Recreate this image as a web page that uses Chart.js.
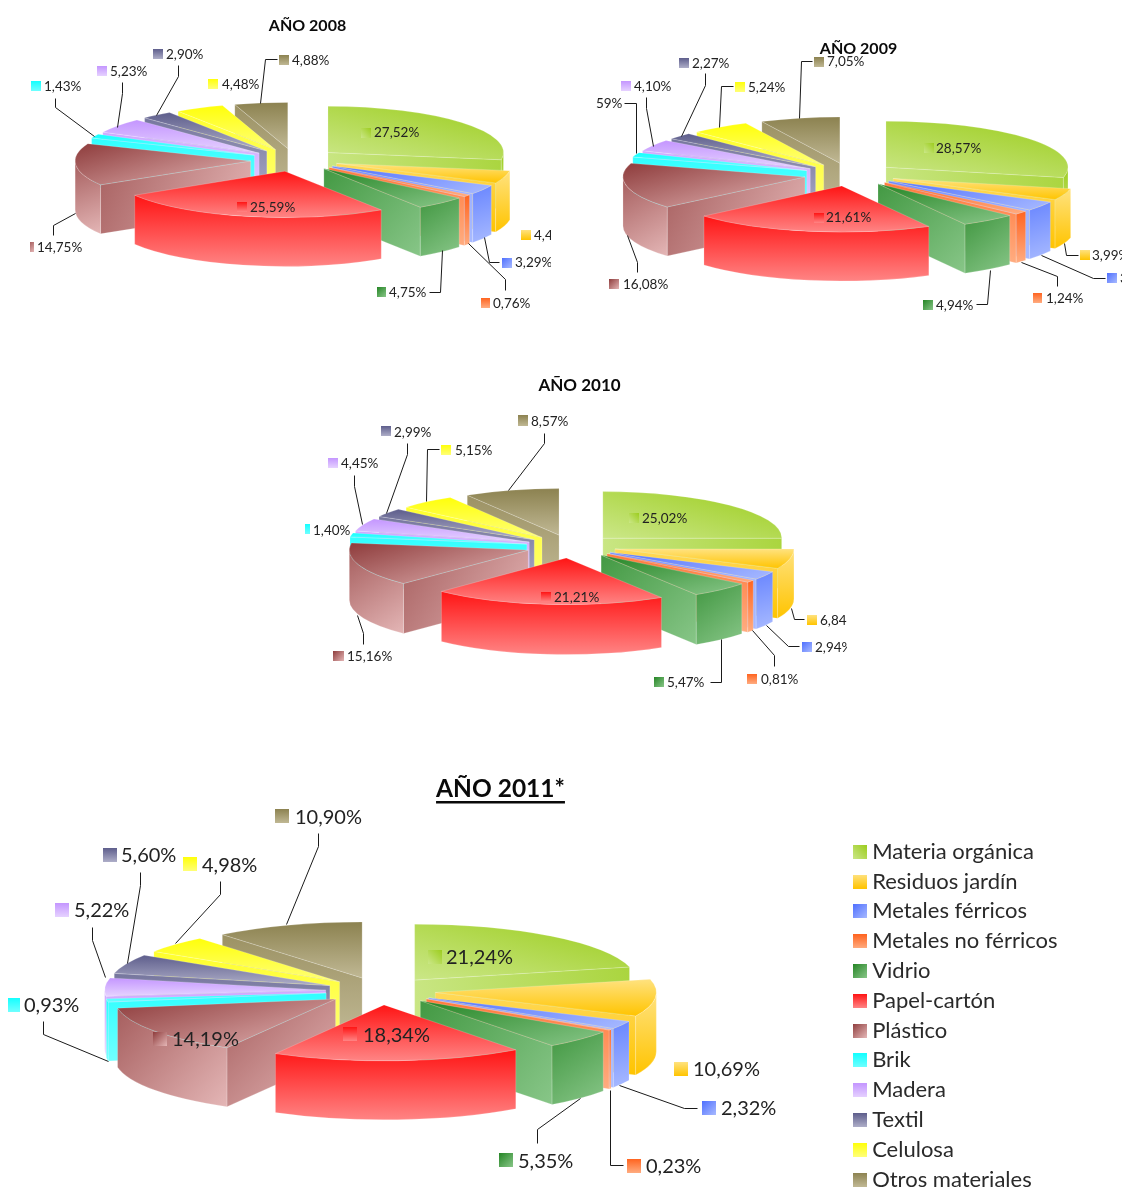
<!DOCTYPE html>
<html lang="es">
<head>
<meta charset="utf-8">
<title>Composición de residuos por año</title>
<script src="https://cdn.jsdelivr.net/npm/chart.js@4"></script>
<style>
  html, body { margin: 0; padding: 0; background: #fff; }
  #page { position: relative; width: 1122px; height: 1187px; overflow: hidden; background: #fff; }
  .pane { position: absolute; overflow: hidden; }
  .pane canvas { display: block; }
</style>
</head>
<body>
<div id="page"></div>
<script>
// ---- Data ----------------------------------------------------------------
const categories = ['Materia orgánica', 'Residuos jardín', 'Metales férricos', 'Metales no férricos',
  'Vidrio', 'Papel-cartón', 'Plástico', 'Brik', 'Madera', 'Textil', 'Celulosa', 'Otros materiales'];
const values2008 = [27.52, 4.42, 3.29, 0.76, 4.75, 25.59, 14.75, 1.43, 5.23, 2.90, 4.48, 4.88];
const values2009 = [28.57, 3.99, 3.32, 1.24, 4.94, 21.61, 16.08, 1.59, 4.10, 2.27, 5.24, 7.05];
const values2010 = [25.02, 6.84, 2.94, 0.81, 5.47, 21.21, 15.16, 1.40, 4.45, 2.99, 5.15, 8.57];
const values2011 = [21.24, 10.69, 2.32, 0.23, 5.35, 18.34, 14.19, 0.93, 5.22, 5.60, 4.98, 10.90];

// ---- Styles --------------------------------------------------------------
// Gradient ends per category; the direction is 'tr' (top right to bottom left),
// 'tl' (top left to bottom right) or 'v' (top to bottom).
const colourStart = ['#9ccd1e', '#ffe27f', '#4f70ff', '#ff6420', '#258525', '#ff1414', '#8e3c3c', '#14ffff', '#c496ff', '#5e5e8c', '#ffff0a', '#8c8250'];
const colourEnd   = ['#cbe788', '#ffc400', '#a8baff', '#ffac80', '#88c688', '#ff8484', '#e4b6b6', '#70ffff', '#e6d2ff', '#aeaec8', '#ffff78', '#c0b894'];
const gradientDir = ['tr', 'v', 'tl', 'v', 'tl', 'v', 'tl', 'v', 'v', 'v', 'v', 'v'];
const FONT = 'Lato';
const SMALL_TEXT = 13.5;
const LARGE_TEXT = 20;

// Annotation layout in page pixels, in category order:
// swatch [x, y, w, h], text [x, centre y], optional leader polyline.
const notes2008 = [
  { s: [361, 128, 10, 10], t: [374, 133] },
  { s: [521, 230, 10, 10], t: [534, 236] },
  { s: [502, 258, 10, 10], t: [515, 263], l: [[484, 237], [489, 262], [499, 262]] },
  { s: [481, 298, 9, 10], t: [493, 304], l: [[468, 243], [505, 279], [505, 290]] },
  { s: [377, 287, 9, 10], t: [389, 293], l: [[442, 250], [440, 292], [429, 292]] },
  { s: [237, 202, 10, 10], t: [250, 208] },
  { s: [24, 242, 10, 10], t: [37, 248], l: [[75, 213], [53, 225], [53, 235]] },
  { s: [31, 81, 10, 10], t: [44, 87], l: [[55, 98], [55, 107], [94, 136]] },
  { s: [97, 66, 10, 10], t: [110, 72], l: [[122, 82], [122, 93], [117, 127]] },
  { s: [153, 49, 10, 10], t: [166, 55], l: [[178, 65], [178, 76], [156, 115]] },
  { s: [208, 79, 10, 10], t: [222, 85] },
  { s: [279, 55, 10, 10], t: [292, 61], l: [[277, 59], [265, 59], [260, 103]] }
];
const notes2009 = [
  { s: [924, 143, 10, 10], t: [936, 149] },
  { s: [1080, 250, 10, 10], t: [1092, 256], l: [[1064, 243], [1066, 255], [1078, 255]] },
  { s: [1107, 273, 10, 10], t: [1120, 279], l: [[1041, 255], [1093, 278], [1105, 278]] },
  { s: [1033, 293, 9, 10], t: [1046, 299], l: [[1021, 262], [1057, 276], [1057, 286]] },
  { s: [923, 300, 10, 10], t: [936, 306], l: [[990, 270], [987, 304], [976, 304]] },
  { s: [814, 213, 10, 10], t: [826, 218] },
  { s: [609, 279, 10, 10], t: [623, 285], l: [[627, 235], [637, 262], [637, 272]] },
  { s: [565, 98, 10, 10], t: [585, 104], l: [[624, 103], [636, 103], [636, 153]] },
  { s: [621, 81, 10, 10], t: [634, 87], l: [[646, 97], [646, 108], [653, 146]] },
  { s: [679, 58, 10, 10], t: [692, 64], l: [[705, 73], [705, 85], [681, 136]] },
  { s: [735, 82, 10, 10], t: [748, 88], l: [[733, 86], [721, 86], [719, 127]] },
  { s: [814, 57, 10, 10], t: [827, 62], l: [[812, 61], [801, 61], [799, 118]] }
];
const notes2010 = [
  { s: [629, 513, 10, 10], t: [642, 519] },
  { s: [807, 615, 10, 10], t: [820, 621], l: [[791, 608], [794, 619], [804, 619]] },
  { s: [802, 642, 10, 10], t: [815, 648], l: [[766, 625], [788, 646], [799, 646]] },
  { s: [747, 674, 10, 10], t: [761, 680], l: [[752, 630], [774, 655], [774, 666]] },
  { s: [654, 677, 10, 10], t: [667, 683], l: [[721, 639], [721, 682], [710, 682]] },
  { s: [541, 592, 10, 10], t: [554, 598] },
  { s: [333, 651, 11, 10], t: [347, 657], l: [[357, 615], [363, 633], [363, 644]] },
  { s: [300, 524, 10, 10], t: [313, 531] },
  { s: [328, 458, 10, 10], t: [341, 464], l: [[354, 475], [354, 486], [362, 524]] },
  { s: [381, 426, 10, 10], t: [394, 433], l: [[407, 443], [407, 454], [386, 513]] },
  { s: [441, 445, 10, 10], t: [455, 451], l: [[439, 449], [427, 449], [426, 501]] },
  { s: [518, 415, 10, 11], t: [531, 422], l: [[544, 433], [544, 443], [508, 490]] }
];
const notes2011 = [
  { s: [428, 950, 14, 14], t: [446, 958] },
  { s: [674, 1062, 14, 14], t: [693, 1070] },
  { s: [702, 1101, 14, 14], t: [721, 1109], l: [[619, 1085], [684, 1108], [697, 1108]] },
  { s: [627, 1159, 14, 14], t: [646, 1167], l: [[610, 1090], [610, 1165], [623, 1165]] },
  { s: [499, 1153, 14, 14], t: [518, 1162], l: [[580, 1098], [537, 1129], [537, 1143]] },
  { s: [343, 1027, 14, 14], t: [363, 1036] },
  { s: [153, 1032, 14, 14], t: [172, 1040] },
  { s: [8, 998, 12, 14], t: [24, 1006], l: [[43, 1021], [43, 1034], [108, 1061]] },
  { s: [55, 903, 14, 14], t: [74, 911], l: [[92, 927], [92, 940], [105, 977]] },
  { s: [103, 848, 14, 14], t: [121, 856], l: [[140, 872], [140, 885], [127, 963]] },
  { s: [183, 857, 14, 14], t: [202, 866], l: [[220, 881], [220, 894], [175, 943]] },
  { s: [275, 809, 14, 14], t: [295, 818], l: [[318, 833], [318, 846], [286, 924]] }
];

// ---- Helpers -------------------------------------------------------------
const formatPct = v => v.toFixed(2).replace('.', ',') + '%';

function mix(a, b, t) {
  const p = c => [1, 3, 5].map(i => parseInt(c.substr(i, 2), 16));
  const A = p(a), B = p(b);
  return 'rgb(' + A.map((v, i) => Math.round(v + (B[i] - v) * t)).join(',') + ')';
}

// Linear gradient across a box, oriented for the given category.
function boxGradient(ctx, i, x0, y0, x1, y1, bias) {
  const d = gradientDir[i];
  const g = d === 'v' ? ctx.createLinearGradient(0, y0, 0, y1)
    : d === 'tl' ? ctx.createLinearGradient(x0, y0, x1, y1)
    : ctx.createLinearGradient(x1, y0, x0, y1);
  g.addColorStop(0, bias ? mix(colourStart[i], colourEnd[i], bias) : colourStart[i]);
  g.addColorStop(1, colourEnd[i]);
  return g;
}

function boundsOf(points) {
  const xs = points.map(p => p[0]), ys = points.map(p => p[1]);
  return [Math.min(...xs), Math.min(...ys), Math.max(...xs), Math.max(...ys)];
}

// Draws one exploded slice as an extruded block: visible side walls first,
// then the flattened top face through the arc element's own draw().
function drawBlock(ctx, arc, i, g) {
  const s = arc.startAngle, e = arc.endAngle, mid = (s + e) / 2;
  const r = arc.outerRadius, k = g.tilt, h = g.depth;
  const ax = g.cx + Math.cos(mid) * g.explode;
  const ay = g.cy + Math.sin(mid) * g.explode * k;
  const rim = a => [ax + Math.cos(a) * r, ay + Math.sin(a) * r * k];

  const radialWall = a => {
    const p = rim(a);
    ctx.beginPath();
    ctx.moveTo(ax, ay);
    ctx.lineTo(p[0], p[1]);
    ctx.lineTo(p[0], p[1] + h);
    ctx.lineTo(ax, ay + h);
    ctx.closePath();
    const [x0, y0, x1, y1] = boundsOf([[ax, ay], p, [p[0], p[1] + h], [ax, ay + h]]);
    ctx.fillStyle = boxGradient(ctx, i, x0, y0, x1, y1, 0.3);
    ctx.fill();
    ctx.strokeStyle = 'rgba(255,255,255,0.28)';
    ctx.lineWidth = 0.7;
    ctx.stroke();
  };
  if (Math.cos(s) < 0) radialWall(s);
  if (Math.cos(e) > 0) radialWall(e);

  const a0 = Math.max(s, 0), a1 = Math.min(e, Math.PI);
  if (a1 > a0) {
    ctx.beginPath();
    ctx.ellipse(ax, ay, r, r * k, 0, a0, a1, false);
    ctx.ellipse(ax, ay + h, r, r * k, 0, a1, a0, true);
    ctx.closePath();
    const pts = [rim(a0), rim(a1)];
    if (a0 < Math.PI / 2 && a1 > Math.PI / 2) pts.push(rim(Math.PI / 2));
    const [x0, y0, x1, y1] = boundsOf(pts);
    ctx.fillStyle = boxGradient(ctx, i, x0, y0, x1, y1 + h, gradientDir[i] === 'tl' ? 0.28 : 0);
    ctx.fill();
    ctx.strokeStyle = 'rgba(255,255,255,0.28)';
    ctx.lineWidth = 0.7;
    ctx.stroke();
  }

  // Top face, in the unflattened coordinates the arc element works in.
  const local = [[arc.x, arc.y]];
  for (const a of [s, e, -Math.PI / 2, 0, Math.PI / 2, Math.PI]) {
    if (a >= s && a <= e) local.push([arc.x + Math.cos(a) * r, arc.y + Math.sin(a) * r]);
  }
  const [x0, y0, x1, y1] = boundsOf(local);
  ctx.save();
  ctx.translate(ax, ay);
  ctx.scale(1, k);
  ctx.translate(-arc.x, -arc.y);
  const resolved = arc.options;
  arc.options = Object.assign({}, resolved, { backgroundColor: boxGradient(ctx, i, x0, y0, x1, y1) });
  arc.draw(ctx);
  arc.options = resolved;
  ctx.restore();
}

function makeBlockPlugin(spec) {
  return {
    id: 'blocks',
    // Replaces the flat pie pass with back-to-front painted blocks.
    beforeDatasetsDraw(chart) {
      const ctx = chart.ctx;
      const arcs = chart.getDatasetMeta(0).data;
      const order = arcs.map((arc, i) => i).sort((a, b) => {
        const m = i => (arcs[i].startAngle + arcs[i].endAngle) / 2;
        return Math.sin(m(a)) - Math.sin(m(b));
      });
      ctx.save();
      ctx.translate(-spec.left, -spec.top);
      order.forEach(i => drawBlock(ctx, arcs[i], i, spec));
      ctx.restore();
      return false;
    },
    afterDraw(chart) {
      const ctx = chart.ctx;
      ctx.save();
      ctx.translate(-spec.left, -spec.top);

      // Leader lines
      ctx.strokeStyle = '#1a1a1a';
      ctx.lineWidth = 1;
      spec.notes.forEach(n => {
        if (!n.l) return;
        ctx.beginPath();
        n.l.forEach((p, j) => j ? ctx.lineTo(p[0] + 0.5, p[1] + 0.5) : ctx.moveTo(p[0] + 0.5, p[1] + 0.5));
        ctx.stroke();
      });

      // Value tags
      ctx.font = spec.textSize + 'px ' + FONT;
      ctx.textBaseline = 'middle';
      ctx.textAlign = 'left';
      spec.notes.forEach((n, i) => {
        const [x, y, w, hh] = n.s;
        ctx.fillStyle = boxGradient(ctx, i, x, y, x + w, y + hh);
        ctx.fillRect(x, y, w, hh);
        ctx.fillStyle = '#222';
        ctx.fillText(formatPct(spec.values[i]), n.t[0], n.t[1]);
      });

      // Heading
      ctx.fillStyle = '#0a0a0a';
      ctx.font = 'bold ' + spec.titleSize + 'px ' + FONT;
      ctx.textAlign = 'center';
      ctx.fillText(spec.title, spec.titleX, spec.titleY);
      if (spec.underline) {
        const w = ctx.measureText(spec.title).width;
        ctx.fillRect(spec.titleX - w / 2, spec.titleY + 12, w, 2.5);
      }
      ctx.restore();
    }
  };
}

function legendSwatch(i) {
  const c = document.createElement('canvas');
  c.width = 14; c.height = 14;
  const x = c.getContext('2d');
  x.fillStyle = boxGradient(x, i, 0, 0, 14, 14);
  x.fillRect(0, 0, 14, 14);
  return c;
}

function makeChart(spec) {
  const pane = document.createElement('div');
  pane.className = 'pane';
  pane.style.cssText = `left:${spec.left}px;top:${spec.top}px;width:${spec.width}px;height:${spec.height}px`;
  const canvas = document.createElement('canvas');
  canvas.width = spec.width; canvas.height = spec.canvasHeight || spec.height;
  pane.appendChild(canvas);
  document.getElementById('page').appendChild(pane);

  return new Chart(canvas, {
    type: 'pie',
    plugins: [makeBlockPlugin(spec)],
    data: {
      labels: categories,
      datasets: [{
        data: spec.values,
        backgroundColor: colourStart,
        borderColor: 'rgba(255,255,255,0.3)',
        borderWidth: 1,
        radius: spec.radius
      }]
    },
    options: {
      responsive: false,
      animation: false,
      layout: { padding: spec.showLegend ? { top: 63, right: 54.5 } : 0 },
      plugins: {
        tooltip: { enabled: false },
        legend: spec.showLegend ? {
          display: true,
          position: 'right',
          align: 'start',
          labels: {
            usePointStyle: true,
            pointStyleWidth: 3,
            boxHeight: 14,
            padding: 7.8,
            color: '#2a2a2a',
            font: { family: FONT, size: 22, lineHeight: 1.09 },
            generateLabels: () => categories.map((text, i) => ({
              text, pointStyle: legendSwatch(i), fontColor: '#2a2a2a', lineWidth: 0, hidden: false, index: i
            }))
          }
        } : { display: false }
      }
    }
  });
}

// ---- Charts --------------------------------------------------------------
makeChart({ title: 'AÑO 2008', values: values2008, notes: notes2008,
  left: 30, top: 0, width: 521, height: 340,
  cx: 294.5, cy: 160, radius: 175.5, tilt: 0.263, explode: 44, depth: 49,
  textSize: SMALL_TEXT, titleSize: 16, titleX: 307.5, titleY: 25.5 });
makeChart({ title: 'AÑO 2009', values: values2009, notes: notes2009,
  left: 596, top: 20, width: 526, height: 310,
  cx: 850, cy: 174.5, radius: 182, tilt: 0.253, explode: 46, depth: 49,
  textSize: SMALL_TEXT, titleSize: 16, titleX: 858.5, titleY: 48.5 });
makeChart({ title: 'AÑO 2010', values: values2010, notes: notes2010,
  left: 305, top: 365, width: 542, height: 335,
  cx: 571, cy: 546.4, radius: 179, tilt: 0.26, explode: 45, depth: 50,
  textSize: SMALL_TEXT, titleSize: 17, titleX: 579.5, titleY: 385.5 });
makeChart({ title: 'AÑO 2011*', values: values2011, notes: notes2011,
  left: 0, top: 770, width: 1122, height: 417, canvasHeight: 470,
  cx: 380.6, cy: 991, radius: 221, tilt: 0.253, explode: 55, depth: 59, showLegend: true,
  textSize: LARGE_TEXT, titleSize: 24.5, titleX: 500.5, titleY: 789, underline: true });
</script>
</body>
</html>
